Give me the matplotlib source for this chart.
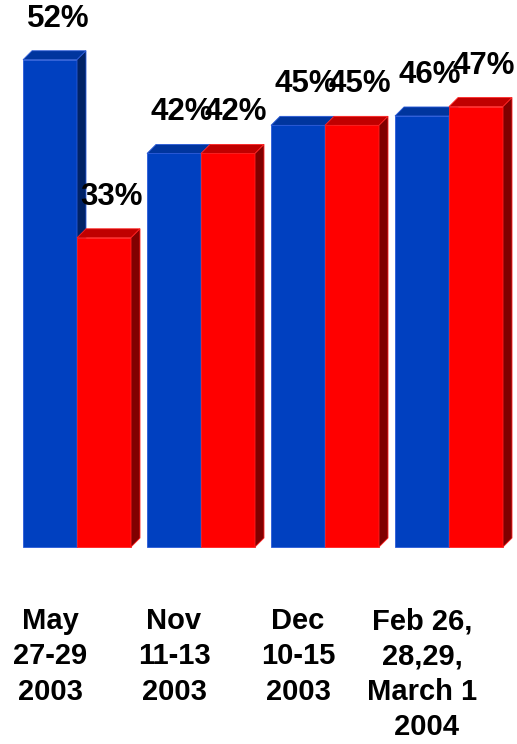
import numpy as np
import matplotlib.pyplot as plt
from matplotlib.patches import Polygon

plt.rcParams['font.family'] = ['Liberation Sans', 'DejaVu Sans']

# data
periods = ['May\n27-29\n2003', 'Nov\n11-13\n2003', 'Dec\n10-15\n2003',
           'Feb 26,\n28,29,\nMarch 1\n 2004']
blue_vals = [52, 42, 45, 46]
red_vals = [33, 42, 45, 47]

# pixel geometry of the slide-style chart (517x744)
W, H = 517, 744
px_x = 124.0          # pixels per group
px_y = 9.37           # pixels per percent
x0_px = 77.0          # pixel x of first group centre
base_px = 547.0       # pixel y (from top) of the zero line

fig = plt.figure(figsize=(W / 100, H / 100), dpi=100)
ax = fig.add_axes([0, 0, 1, 1])
ax.set_xlim(-x0_px / px_x, (W - x0_px) / px_x)
ax.set_ylim(-(H - base_px) / px_y, base_px / px_y)
ax.axis('off')

width = 54 / px_x
dx = 9 / px_x
dy = 9 / px_y


def bar3d(xc, h, front, top, side, edge):
    xl, xr = xc - width / 2, xc + width / 2
    ax.add_patch(Polygon([(xl, 0), (xr, 0), (xr, h), (xl, h)],
                         closed=True, fc=front, ec=edge, lw=0.6))
    ax.add_patch(Polygon([(xl, h), (xl + dx, h + dy), (xr + dx, h + dy), (xr, h)],
                         closed=True, fc=top, ec=edge, lw=0.6))
    ax.add_patch(Polygon([(xr, 0), (xr + dx, dy), (xr + dx, h + dy), (xr, h)],
                         closed=True, fc=side, ec=edge, lw=0.6))


lab_dx = 8 / px_x
lab_dy = 41 / px_y
for i in range(len(periods)):
    xb = i - width / 2
    xr = i + width / 2
    bar3d(xb, blue_vals[i], '#0040C0', '#00359E', '#002266', '#2a5ad8')
    bar3d(xr, red_vals[i], '#FF0000', '#C00000', '#800000', '#FF2020')
    ax.text(xb + lab_dx, blue_vals[i] + lab_dy, '%d%%' % blue_vals[i],
            ha='center', va='center', fontsize=22.5, fontweight='bold')
    ax.text(xr + lab_dx, red_vals[i] + lab_dy, '%d%%' % red_vals[i],
            ha='center', va='center', fontsize=22.5, fontweight='bold')
    ax.text(xb, -(607 - base_px) / px_y, periods[i], ha='center', va='top',
            fontsize=21, fontweight='bold', linespacing=1.34,
            multialignment='center')

fig.savefig('out.png', dpi=100)
